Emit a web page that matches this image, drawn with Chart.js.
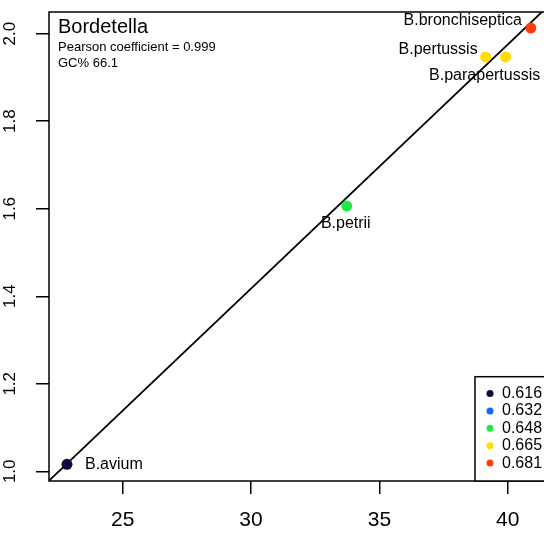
<!DOCTYPE html>
<html><head><meta charset="utf-8">
<script src="https://cdn.jsdelivr.net/npm/chart.js@4/dist/chart.umd.min.js"></script>
<style>html,body{margin:0;padding:0;overflow:hidden;background:#fff}#wrap{width:552px;height:533px;position:relative}</style>
</head><body><div id="wrap"><canvas id="c"></canvas></div>
<script>
// ---- data ----
const species = ['B.avium', 'B.petrii', 'B.pertussis', 'B.parapertussis', 'B.bronchiseptica'];
const xValues = [22.83, 33.73, 39.14, 39.92, 40.90];
const yValues = [1.016, 1.606, 1.947, 1.947, 2.013];
const colorIndex = [0, 2, 3, 3, 4];
const legendValues = ['0.616', '0.632', '0.648', '0.665', '0.681'];
const legendColors = ['#0c0c3e', '#1166ff', '#22e845', '#ffdd00', '#ff3d0d'];
const xTicks = [25, 30, 35, 40];
const yTicks = [1.0, 1.2, 1.4, 1.6, 1.8, 2.0];
const fitIntercept = -0.2559;
const fitSlope = 0.05578;
const titleText = 'Bordetella';
const statLines = ['Pearson coefficient = 0.999', 'GC% 66.1'];
const xRange = [22.13, 41.51];
const yRange = [0.9778, 2.0496];

// ---- style ----
const FONT = "'Liberation Sans', Arial, Helvetica, sans-serif";
const labelStyle = [
  {dx: 18, dy: 0, align: 'left'},
  {dx: -1, dy: 17, align: 'center'},
  {dx: -8, dy: -7.3, align: 'right'},
  {dx: -21, dy: 18.7, align: 'center'},
  {dx: -9, dy: -7.6, align: 'right'}
];

const lineData = xRange.map(x => ({x: x, y: fitIntercept + fitSlope * x}));
const pointData = xValues.map((x, i) => ({x: x, y: yValues[i]}));

const framePlugin = {
  id: 'frame',
  afterDatasetsDraw(chart) {
    const {ctx, chartArea: a, scales} = chart;
    ctx.save();
    ctx.strokeStyle = '#000';
    ctx.lineWidth = 1.5;
    ctx.strokeRect(a.left, a.top, a.right - a.left, a.bottom - a.top);
    ctx.fillStyle = '#000';
    ctx.font = '16px ' + FONT;
    ctx.textBaseline = 'middle';
    species.forEach((name, i) => {
      const px = scales.x.getPixelForValue(xValues[i]);
      const py = scales.y.getPixelForValue(yValues[i]);
      const s = labelStyle[i];
      ctx.textAlign = s.align;
      ctx.fillText(name, px + s.dx, py + s.dy);
    });
    ctx.textAlign = 'left';
    ctx.font = '20px ' + FONT;
    ctx.fillText(titleText, a.left + 9, 27.7);
    ctx.font = '13px ' + FONT;
    ctx.fillText(statLines[0], a.left + 9, 47.8);
    ctx.fillText(statLines[1], a.left + 9, 63);
    const lx = 475, ly = 376.7;
    ctx.fillStyle = '#fff';
    ctx.fillRect(lx, ly, a.right + 10 - lx, a.bottom - ly);
    ctx.strokeStyle = '#000';
    ctx.lineWidth = 1.5;
    ctx.strokeRect(lx, ly, a.right + 10 - lx, a.bottom - ly);
    ctx.font = '16px ' + FONT;
    legendValues.forEach((v, i) => {
      const y = 393.5 + i * 17.4;
      ctx.fillStyle = legendColors[i];
      ctx.beginPath();
      ctx.arc(490, y, 3.5, 0, Math.PI * 2);
      ctx.fill();
      ctx.fillStyle = '#000';
      ctx.fillText(v, 502, y);
    });
    ctx.restore();
  }
};

new Chart(document.getElementById('c'), {
  data: {
    datasets: [
      {type: 'line', data: lineData, borderColor: '#000', borderWidth: 1.8, pointRadius: 0, fill: false, order: 2},
      {type: 'scatter', data: pointData, backgroundColor: colorIndex.map(k => legendColors[k]),
       pointRadius: 5.5, pointBorderWidth: 0, borderWidth: 0, order: 1}
    ]
  },
  options: {
    responsive: true,
    maintainAspectRatio: false,
    animation: false,
    layout: {padding: {top: 12, left: 0, right: 0, bottom: 0}},
    plugins: {legend: {display: false}, tooltip: {enabled: false}},
    scales: {
      x: {
        type: 'linear', min: xRange[0], max: xRange[1],
        afterFit(s) { s.height = 52; s.paddingLeft = 0; s.paddingRight = 0; },
        afterBuildTicks(s) { s.ticks = xTicks.map(v => ({value: v})); },
        grid: {display: true, drawOnChartArea: false, drawTicks: true, tickLength: 13, color: '#000', lineWidth: 1.5},
        border: {display: false},
        ticks: {padding: 14, color: '#000', font: {family: FONT, size: 21}, callback: v => String(v)}
      },
      y: {
        type: 'linear', min: yRange[0], max: yRange[1],
        afterFit(s) { s.width = 49; s.paddingTop = 0; s.paddingBottom = 0; },
        afterBuildTicks(s) { s.ticks = yTicks.map(v => ({value: v})); },
        grid: {display: true, drawOnChartArea: false, drawTicks: true, tickLength: 13, color: '#000', lineWidth: 1.5},
        border: {display: false},
        ticks: {minRotation: 90, maxRotation: 90, crossAlign: 'center', padding: 14, color: '#000',
                font: {family: FONT, size: 17}, callback: v => Number(v).toFixed(1)}
      }
    }
  },
  plugins: [framePlugin]
});
</script>
</body></html>
